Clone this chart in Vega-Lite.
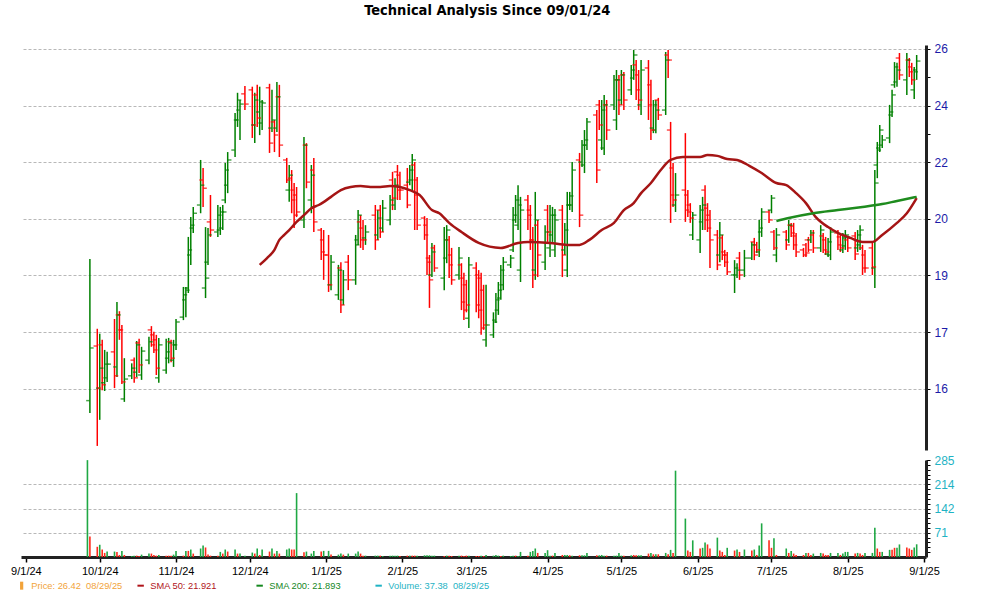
{
  "$schema": "https://vega.github.io/schema/vega-lite/v6.json",
  "background": "white",
  "padding": {"left": 10, "top": 3, "right": 0, "bottom": 0},
  "bounds": "flush",
  "title": {"text": "Technical Analysis Since 09/01/24", "font": "Liberation Sans Narrow, DejaVu Sans Condensed, Liberation Sans", "fontSize": 14.5, "fontWeight": "bold", "color": "#000000", "anchor": "middle", "offset": 24, "dx": 5},
  "spacing": 10,
  "datasets": {
    "ohlc": [
      {"d":"2024-09-26","v":285,"vc":"g"},
      {"d":"2024-09-27","o":15.93,"h":19.67,"l":15.64,"c":17.23,"v":60,"vc":"r"},
      {"d":"2024-09-30","o":17.28,"h":17.73,"l":14.89,"c":16.23,"v":30,"vc":"r"},
      {"d":"2024-10-01","o":16.23,"h":17.6,"l":15.48,"c":16.72,"v":36,"vc":"g"},
      {"d":"2024-10-02","o":17.31,"h":17.44,"l":16.18,"c":16.31,"v":22,"vc":"r"},
      {"d":"2024-10-03","o":16.36,"h":17.18,"l":16.16,"c":16.82,"v":12,"vc":"r"},
      {"d":"2024-10-04","o":16.48,"h":17.13,"l":16.38,"c":16.82,"v":16,"vc":"g"},
      {"d":"2024-10-07","o":17.13,"h":17.99,"l":16.23,"c":16.53,"v":16,"vc":"g"},
      {"d":"2024-10-08","o":16.75,"h":18.45,"l":16.5,"c":18.1,"v":15,"vc":"r"},
      {"d":"2024-10-09","o":18.1,"h":18.2,"l":17.44,"c":17.7,"v":6,"vc":"r"},
      {"d":"2024-10-10","o":17.7,"h":17.83,"l":16.33,"c":16.38,"v":18,"vc":"g"},
      {"d":"2024-10-11","o":15.97,"h":16.97,"l":15.9,"c":16.45,"v":6,"vc":"r"},
      {"d":"2024-10-14","o":16.53,"h":16.84,"l":16.45,"c":16.72,"v":3,"vc":"g"},
      {"d":"2024-10-15","o":16.92,"h":16.99,"l":16.36,"c":16.48,"v":4,"vc":"g"},
      {"d":"2024-10-16","o":16.62,"h":17.41,"l":16.5,"c":17.31,"v":4,"vc":"r"},
      {"d":"2024-10-17","o":17.36,"h":17.47,"l":16.6,"c":16.8,"v":3,"vc":"r"},
      {"d":"2024-10-18","o":16.55,"h":17.26,"l":16.43,"c":17.15,"v":7,"vc":"g"},
      {"d":"2024-10-21","o":16.92,"h":17.52,"l":16.82,"c":17.39,"v":10,"vc":"g"},
      {"d":"2024-10-22","o":17.7,"h":17.8,"l":17.26,"c":17.31,"v":10,"vc":"r"},
      {"d":"2024-10-23","o":17.57,"h":17.65,"l":17.1,"c":17.18,"v":6,"vc":"r"},
      {"d":"2024-10-24","o":17.44,"h":17.57,"l":16.55,"c":16.72,"v":4,"vc":"r"},
      {"d":"2024-10-25","o":16.48,"h":17.49,"l":16.36,"c":17.31,"v":6,"vc":"g"},
      {"d":"2024-10-28","o":16.67,"h":17.47,"l":16.58,"c":17.13,"v":4,"vc":"r"},
      {"d":"2024-10-29","o":16.97,"h":17.49,"l":16.84,"c":17.36,"v":4,"vc":"r"},
      {"d":"2024-10-30","o":17.39,"h":17.44,"l":16.87,"c":16.97,"v":4,"vc":"r"},
      {"d":"2024-10-31","o":16.92,"h":17.44,"l":16.75,"c":17.31,"v":7,"vc":"g"},
      {"d":"2024-11-01","o":17.31,"h":17.99,"l":17.18,"c":17.91,"v":18,"vc":"g"},
      {"d":"2024-11-04","o":18.04,"h":18.87,"l":17.96,"c":18.65,"v":4,"vc":"r"},
      {"d":"2024-11-05","o":18.51,"h":18.87,"l":18.04,"c":18.78,"v":18,"vc":"g"},
      {"d":"2024-11-06","o":18.84,"h":20.33,"l":18.7,"c":19.94,"v":18,"vc":"r"},
      {"d":"2024-11-07","o":19.79,"h":20.94,"l":19.5,"c":20.69,"v":22,"vc":"g"},
      {"d":"2024-11-08","o":20.6,"h":21.26,"l":20.45,"c":21.06,"v":10,"vc":"r"},
      {"d":"2024-11-11","o":21.32,"h":22.8,"l":21.06,"c":21.96,"v":25,"vc":"g"},
      {"d":"2024-11-12","o":22.13,"h":22.53,"l":21.26,"c":21.86,"v":34,"vc":"g"},
      {"d":"2024-11-13","o":18.84,"h":20.63,"l":18.56,"c":19.12,"v":28,"vc":"r"},
      {"d":"2024-11-14","o":19.58,"h":20.6,"l":19.5,"c":20.39,"v":7,"vc":"r"},
      {"d":"2024-11-15","o":20.79,"h":21.64,"l":20.33,"c":20.54,"v":4,"vc":"r"},
      {"d":"2024-11-18","o":20.48,"h":21.32,"l":20.33,"c":21.0,"v":4,"vc":"r"},
      {"d":"2024-11-19","o":20.54,"h":21.26,"l":20.39,"c":21.1,"v":15,"vc":"g"},
      {"d":"2024-11-20","o":20.6,"h":21.32,"l":20.54,"c":21.1,"v":10,"vc":"r"},
      {"d":"2024-11-21","o":21.48,"h":22.7,"l":21.38,"c":22.46,"v":22,"vc":"g"},
      {"d":"2024-11-22","o":21.96,"h":23.07,"l":21.7,"c":22.8,"v":16,"vc":"r"},
      {"d":"2024-11-25","o":23.14,"h":24.45,"l":22.9,"c":24.2,"v":22,"vc":"g"},
      {"d":"2024-11-26","o":24.2,"h":25.2,"l":23.95,"c":24.93,"v":10,"vc":"r"},
      {"d":"2024-11-27","o":24.56,"h":24.93,"l":23.49,"c":24.78,"v":10,"vc":"g"},
      {"d":"2024-11-29","o":25.16,"h":25.46,"l":24.56,"c":24.78,"v":4,"vc":"g"},
      {"d":"2024-12-02","o":25.31,"h":25.43,"l":23.56,"c":24.02,"v":13,"vc":"g"},
      {"d":"2024-12-03","o":24.02,"h":25.2,"l":23.38,"c":24.93,"v":10,"vc":"r"},
      {"d":"2024-12-04","o":25.12,"h":25.5,"l":23.95,"c":24.27,"v":25,"vc":"g"},
      {"d":"2024-12-05","o":24.49,"h":25.43,"l":23.66,"c":24.86,"v":6,"vc":"r"},
      {"d":"2024-12-06","o":24.09,"h":24.93,"l":23.84,"c":24.82,"v":22,"vc":"g"},
      {"d":"2024-12-09","o":25.39,"h":25.54,"l":23.04,"c":23.38,"v":16,"vc":"r"},
      {"d":"2024-12-10","o":23.91,"h":25.31,"l":23.77,"c":24.2,"v":25,"vc":"g"},
      {"d":"2024-12-11","o":24.13,"h":24.2,"l":23.07,"c":23.66,"v":10,"vc":"r"},
      {"d":"2024-12-12","o":23.91,"h":25.61,"l":23.77,"c":25.05,"v":18,"vc":"g"},
      {"d":"2024-12-13","o":25.05,"h":25.5,"l":22.9,"c":23.31,"v":10,"vc":"r"},
      {"d":"2024-12-16","o":22.8,"h":22.87,"l":22.03,"c":22.13,"v":22,"vc":"g"},
      {"d":"2024-12-17","o":21.8,"h":22.63,"l":21.42,"c":22.29,"v":25,"vc":"g"},
      {"d":"2024-12-18","o":22.19,"h":22.46,"l":21.06,"c":21.48,"v":22,"vc":"r"},
      {"d":"2024-12-19","o":21.8,"h":22.03,"l":20.6,"c":21.0,"v":22,"vc":"r"},
      {"d":"2024-12-20","o":21.64,"h":21.9,"l":20.94,"c":21.1,"v":188,"vc":"g"},
      {"d":"2024-12-23","o":20.85,"h":23.59,"l":20.6,"c":23.31,"v":14,"vc":"r"},
      {"d":"2024-12-24","o":23.31,"h":23.38,"l":21.86,"c":22.06,"v":16,"vc":"g"},
      {"d":"2024-12-26","o":21.48,"h":22.63,"l":21.06,"c":22.29,"v":10,"vc":"g"},
      {"d":"2024-12-27","o":22.46,"h":22.87,"l":20.48,"c":20.79,"v":18,"vc":"g"},
      {"d":"2024-12-30","o":20.54,"h":20.6,"l":19.64,"c":19.88,"v":16,"vc":"r"},
      {"d":"2024-12-31","o":20.24,"h":20.54,"l":19.07,"c":19.79,"v":18,"vc":"g"},
      {"d":"2025-01-02","o":19.79,"h":20.39,"l":18.73,"c":18.93,"v":18,"vc":"g"},
      {"d":"2025-01-03","o":18.93,"h":19.79,"l":18.78,"c":19.58,"v":7,"vc":"r"},
      {"d":"2025-01-06","o":18.65,"h":19.5,"l":18.51,"c":19.35,"v":7,"vc":"g"},
      {"d":"2025-01-07","o":19.41,"h":19.58,"l":18.15,"c":18.37,"v":10,"vc":"g"},
      {"d":"2025-01-08","o":18.51,"h":19.35,"l":18.37,"c":19.07,"v":7,"vc":"r"},
      {"d":"2025-01-10","o":19.58,"h":19.79,"l":18.78,"c":19.07,"v":10,"vc":"g"},
      {"d":"2025-01-13","o":19.07,"h":20.39,"l":18.93,"c":20.09,"v":10,"vc":"g"},
      {"d":"2025-01-14","o":20.24,"h":21.16,"l":20.09,"c":21.0,"v":16,"vc":"g"},
      {"d":"2025-01-15","o":20.79,"h":21.0,"l":20.0,"c":20.24,"v":10,"vc":"r"},
      {"d":"2025-01-16","o":20.6,"h":20.85,"l":19.94,"c":20.24,"v":4,"vc":"r"},
      {"d":"2025-01-17","o":20.3,"h":20.69,"l":20.09,"c":20.48,"v":4,"vc":"g"},
      {"d":"2025-01-21","o":21.0,"h":21.32,"l":19.94,"c":20.24,"v":4,"vc":"g"},
      {"d":"2025-01-22","o":20.39,"h":21.16,"l":20.24,"c":20.91,"v":4,"vc":"g"},
      {"d":"2025-01-23","o":21.16,"h":21.32,"l":20.3,"c":20.48,"v":4,"vc":"r"},
      {"d":"2025-01-24","o":20.6,"h":21.48,"l":20.48,"c":21.22,"v":3,"vc":"g"},
      {"d":"2025-01-27","o":20.85,"h":21.64,"l":20.69,"c":21.48,"v":4,"vc":"g"},
      {"d":"2025-01-28","o":22.13,"h":22.4,"l":21.16,"c":21.54,"v":4,"vc":"g"},
      {"d":"2025-01-29","o":21.32,"h":22.19,"l":21.16,"c":21.96,"v":4,"vc":"g"},
      {"d":"2025-01-30","o":22.4,"h":22.63,"l":21.48,"c":21.8,"v":4,"vc":"g"},
      {"d":"2025-01-31","o":22.29,"h":22.4,"l":21.48,"c":21.8,"v":3,"vc":"r"},
      {"d":"2025-02-03","o":21.96,"h":22.53,"l":21.22,"c":21.32,"v":4,"vc":"r"},
      {"d":"2025-02-04","o":22.06,"h":22.63,"l":21.96,"c":22.46,"v":4,"vc":"g"},
      {"d":"2025-02-05","o":22.13,"h":23.0,"l":21.8,"c":22.8,"v":4,"vc":"r"},
      {"d":"2025-02-06","o":22.63,"h":22.73,"l":20.54,"c":21.64,"v":4,"vc":"r"},
      {"d":"2025-02-07","o":22.13,"h":22.23,"l":20.54,"c":20.69,"v":4,"vc":"g"},
      {"d":"2025-02-10","o":20.91,"h":20.97,"l":20.24,"c":20.39,"v":5,"vc":"g"},
      {"d":"2025-02-11","o":20.69,"h":20.91,"l":19.21,"c":19.58,"v":5,"vc":"g"},
      {"d":"2025-02-12","o":19.7,"h":19.79,"l":18.29,"c":19.07,"v":5,"vc":"g"},
      {"d":"2025-02-13","o":19.21,"h":20.15,"l":19.15,"c":19.88,"v":4,"vc":"g"},
      {"d":"2025-02-14","o":20.0,"h":20.09,"l":19.3,"c":19.41,"v":4,"vc":"g"},
      {"d":"2025-02-18","o":19.12,"h":20.63,"l":18.78,"c":20.24,"v":3,"vc":"r"},
      {"d":"2025-02-19","o":19.7,"h":20.69,"l":19.55,"c":20.54,"v":4,"vc":"g"},
      {"d":"2025-02-20","o":20.24,"h":20.36,"l":19.12,"c":19.5,"v":4,"vc":"r"},
      {"d":"2025-02-21","o":19.79,"h":20.0,"l":18.93,"c":19.07,"v":3,"vc":"r"},
      {"d":"2025-02-24","o":19.21,"h":20.03,"l":19.07,"c":19.7,"v":4,"vc":"g"},
      {"d":"2025-02-25","o":19.5,"h":19.55,"l":18.23,"c":18.45,"v":4,"vc":"r"},
      {"d":"2025-02-26","o":19.12,"h":19.27,"l":17.96,"c":18.23,"v":3,"vc":"r"},
      {"d":"2025-02-27","o":18.93,"h":19.07,"l":18.17,"c":18.37,"v":4,"vc":"r"},
      {"d":"2025-02-28","o":18.01,"h":19.73,"l":17.75,"c":19.5,"v":4,"vc":"g"},
      {"d":"2025-03-03","o":19.41,"h":19.58,"l":18.17,"c":18.37,"v":3,"vc":"r"},
      {"d":"2025-03-04","o":19.21,"h":19.35,"l":18.01,"c":18.23,"v":3,"vc":"r"},
      {"d":"2025-03-05","o":19.12,"h":19.27,"l":17.57,"c":17.75,"v":4,"vc":"g"},
      {"d":"2025-03-06","o":18.78,"h":18.93,"l":17.7,"c":17.83,"v":3,"vc":"r"},
      {"d":"2025-03-07","o":17.44,"h":18.93,"l":17.26,"c":17.83,"v":6,"vc":"g"},
      {"d":"2025-03-10","o":17.57,"h":18.17,"l":17.49,"c":17.91,"v":4,"vc":"g"},
      {"d":"2025-03-11","o":17.96,"h":18.7,"l":17.88,"c":18.51,"v":6,"vc":"g"},
      {"d":"2025-03-12","o":18.23,"h":19.01,"l":18.1,"c":18.78,"v":4,"vc":"g"},
      {"d":"2025-03-13","o":18.56,"h":19.5,"l":18.51,"c":19.35,"v":3,"vc":"r"},
      {"d":"2025-03-14","o":18.93,"h":19.73,"l":18.78,"c":19.58,"v":4,"vc":"g"},
      {"d":"2025-03-17","o":19.5,"h":19.79,"l":19.41,"c":19.7,"v":3,"vc":"g"},
      {"d":"2025-03-18","o":19.94,"h":21.26,"l":19.88,"c":21.0,"v":4,"vc":"g"},
      {"d":"2025-03-19","o":20.85,"h":21.64,"l":20.76,"c":21.48,"v":4,"vc":"r"},
      {"d":"2025-03-20","o":20.69,"h":21.96,"l":20.54,"c":21.32,"v":3,"vc":"g"},
      {"d":"2025-03-21","o":19.35,"h":21.58,"l":19.01,"c":21.16,"v":15,"vc":"g"},
      {"d":"2025-03-24","o":21.48,"h":21.64,"l":20.54,"c":21.0,"v":4,"vc":"r"},
      {"d":"2025-03-25","o":21.16,"h":21.32,"l":19.94,"c":20.24,"v":15,"vc":"g"},
      {"d":"2025-03-26","o":20.24,"h":20.63,"l":18.84,"c":19.21,"v":18,"vc":"g"},
      {"d":"2025-03-27","o":19.35,"h":21.74,"l":19.07,"c":20.85,"v":25,"vc":"g"},
      {"d":"2025-03-28","o":20.69,"h":20.85,"l":19.15,"c":19.79,"v":12,"vc":"r"},
      {"d":"2025-03-31","o":19.58,"h":20.69,"l":19.35,"c":20.48,"v":12,"vc":"g"},
      {"d":"2025-04-01","o":21.16,"h":21.32,"l":20.18,"c":20.48,"v":20,"vc":"g"},
      {"d":"2025-04-02","o":20.0,"h":21.32,"l":19.73,"c":21.0,"v":4,"vc":"g"},
      {"d":"2025-04-03","o":20.39,"h":21.26,"l":20.18,"c":21.0,"v":4,"vc":"r"},
      {"d":"2025-04-04","o":19.94,"h":21.19,"l":19.73,"c":20.85,"v":12,"vc":"g"},
      {"d":"2025-04-07","o":21.16,"h":21.32,"l":19.15,"c":19.79,"v":6,"vc":"r"},
      {"d":"2025-04-08","o":19.94,"h":20.76,"l":19.79,"c":20.54,"v":6,"vc":"g"},
      {"d":"2025-04-09","o":19.35,"h":21.74,"l":19.15,"c":21.32,"v":6,"vc":"g"},
      {"d":"2025-04-10","o":21.32,"h":21.74,"l":21.16,"c":21.61,"v":5,"vc":"r"},
      {"d":"2025-04-11","o":21.32,"h":22.73,"l":21.1,"c":22.46,"v":4,"vc":"g"},
      {"d":"2025-04-14","o":22.8,"h":23.04,"l":20.63,"c":21.0,"v":5,"vc":"r"},
      {"d":"2025-04-15","o":22.73,"h":23.49,"l":22.56,"c":23.31,"v":5,"vc":"g"},
      {"d":"2025-04-16","o":22.63,"h":23.84,"l":22.36,"c":23.49,"v":5,"vc":"g"},
      {"d":"2025-04-17","o":23.31,"h":24.27,"l":23.14,"c":24.13,"v":12,"vc":"g"},
      {"d":"2025-04-21","o":24.38,"h":24.56,"l":22.03,"c":22.46,"v":5,"vc":"r"},
      {"d":"2025-04-22","o":24.75,"h":24.93,"l":23.84,"c":24.02,"v":5,"vc":"g"},
      {"d":"2025-04-23","o":23.49,"h":24.93,"l":23.14,"c":24.56,"v":6,"vc":"g"},
      {"d":"2025-04-24","o":23.21,"h":25.12,"l":22.97,"c":24.75,"v":4,"vc":"g"},
      {"d":"2025-04-25","o":24.75,"h":24.93,"l":23.49,"c":23.84,"v":4,"vc":"r"},
      {"d":"2025-04-28","o":24.75,"h":25.88,"l":24.56,"c":25.69,"v":4,"vc":"g"},
      {"d":"2025-04-29","o":24.2,"h":26.07,"l":23.84,"c":25.69,"v":4,"vc":"g"},
      {"d":"2025-04-30","o":25.69,"h":25.88,"l":24.38,"c":24.75,"v":12,"vc":"g"},
      {"d":"2025-05-01","o":24.93,"h":26.07,"l":24.75,"c":25.88,"v":4,"vc":"g"},
      {"d":"2025-05-02","o":25.88,"h":25.99,"l":24.56,"c":24.93,"v":4,"vc":"r"},
      {"d":"2025-05-05","o":25.31,"h":26.27,"l":25.12,"c":26.07,"v":5,"vc":"g"},
      {"d":"2025-05-06","o":25.76,"h":26.86,"l":25.69,"c":26.66,"v":6,"vc":"r"},
      {"d":"2025-05-07","o":26.27,"h":26.46,"l":24.93,"c":25.31,"v":5,"vc":"r"},
      {"d":"2025-05-08","o":25.88,"h":26.07,"l":24.56,"c":24.93,"v":5,"vc":"g"},
      {"d":"2025-05-09","o":24.75,"h":26.46,"l":24.38,"c":26.07,"v":5,"vc":"g"},
      {"d":"2025-05-12","o":26.15,"h":26.46,"l":24.2,"c":24.75,"v":10,"vc":"r"},
      {"d":"2025-05-13","o":25.5,"h":25.69,"l":23.49,"c":23.84,"v":12,"vc":"g"},
      {"d":"2025-05-14","o":23.91,"h":24.93,"l":23.73,"c":24.75,"v":8,"vc":"r"},
      {"d":"2025-05-15","o":23.84,"h":24.93,"l":23.73,"c":24.56,"v":8,"vc":"g"},
      {"d":"2025-05-16","o":24.93,"h":25.01,"l":24.2,"c":24.38,"v":8,"vc":"r"},
      {"d":"2025-05-19","o":24.56,"h":26.78,"l":24.38,"c":26.46,"v":12,"vc":"g"},
      {"d":"2025-05-20","o":26.66,"h":26.86,"l":25.76,"c":26.46,"v":8,"vc":"r"},
      {"d":"2025-05-21","o":23.84,"h":24.13,"l":20.76,"c":21.64,"v":21,"vc":"g"},
      {"d":"2025-05-22","o":22.53,"h":22.7,"l":21.26,"c":21.48,"v":12,"vc":"r"},
      {"d":"2025-05-23","o":21.32,"h":22.36,"l":21.1,"c":21.64,"v":254,"vc":"g"},
      {"d":"2025-05-27","o":21.8,"h":23.73,"l":20.79,"c":21.16,"v":113,"vc":"g"},
      {"d":"2025-05-28","o":21.64,"h":21.8,"l":20.94,"c":21.1,"v":19,"vc":"r"},
      {"d":"2025-05-29","o":21.32,"h":21.38,"l":20.76,"c":20.91,"v":15,"vc":"r"},
      {"d":"2025-05-30","o":20.39,"h":21.1,"l":20.24,"c":21.0,"v":49,"vc":"g"},
      {"d":"2025-06-02","o":20.24,"h":21.32,"l":19.85,"c":21.16,"v":25,"vc":"r"},
      {"d":"2025-06-03","o":20.79,"h":21.58,"l":20.54,"c":21.32,"v":27,"vc":"g"},
      {"d":"2025-06-04","o":21.8,"h":21.96,"l":20.54,"c":20.85,"v":43,"vc":"g"},
      {"d":"2025-06-05","o":21.22,"h":21.38,"l":20.48,"c":20.6,"v":37,"vc":"r"},
      {"d":"2025-06-06","o":21.0,"h":21.16,"l":19.41,"c":20.24,"v":25,"vc":"r"},
      {"d":"2025-06-09","o":20.39,"h":20.54,"l":19.35,"c":19.5,"v":57,"vc":"g"},
      {"d":"2025-06-10","o":19.79,"h":20.79,"l":19.58,"c":20.39,"v":19,"vc":"r"},
      {"d":"2025-06-11","o":20.3,"h":20.39,"l":19.64,"c":19.79,"v":15,"vc":"r"},
      {"d":"2025-06-12","o":19.88,"h":19.94,"l":19.44,"c":19.58,"v":6,"vc":"r"},
      {"d":"2025-06-13","o":19.79,"h":19.88,"l":19.21,"c":19.3,"v":27,"vc":"g"},
      {"d":"2025-06-16","o":19.21,"h":19.64,"l":18.7,"c":19.41,"v":19,"vc":"r"},
      {"d":"2025-06-17","o":19.21,"h":19.55,"l":19.12,"c":19.35,"v":22,"vc":"g"},
      {"d":"2025-06-18","o":19.7,"h":19.88,"l":19.07,"c":19.21,"v":15,"vc":"r"},
      {"d":"2025-06-20","o":19.35,"h":19.94,"l":19.15,"c":19.7,"v":22,"vc":"g"},
      {"d":"2025-06-23","o":19.7,"h":20.18,"l":19.64,"c":20.09,"v":19,"vc":"r"},
      {"d":"2025-06-24","o":20.18,"h":20.3,"l":19.64,"c":19.79,"v":22,"vc":"g"},
      {"d":"2025-06-25","o":20.09,"h":20.18,"l":19.85,"c":19.94,"v":6,"vc":"r"},
      {"d":"2025-06-26","o":19.88,"h":20.85,"l":19.73,"c":20.6,"v":34,"vc":"g"},
      {"d":"2025-06-27","o":20.48,"h":21.22,"l":20.33,"c":21.1,"v":99,"vc":"g"},
      {"d":"2025-06-30","o":21.1,"h":21.16,"l":20.76,"c":20.85,"v":49,"vc":"r"},
      {"d":"2025-07-01","o":21.16,"h":21.64,"l":21.06,"c":21.54,"v":27,"vc":"r"},
      {"d":"2025-07-02","o":20.48,"h":20.54,"l":19.94,"c":20.0,"v":55,"vc":"g"},
      {"d":"2025-07-03","o":19.79,"h":20.6,"l":19.58,"c":20.39,"v":6,"vc":"r"},
      {"d":"2025-07-07","o":20.48,"h":20.54,"l":19.94,"c":20.09,"v":25,"vc":"g"},
      {"d":"2025-07-08","o":20.24,"h":20.85,"l":20.15,"c":20.69,"v":12,"vc":"r"},
      {"d":"2025-07-09","o":20.69,"h":20.76,"l":20.33,"c":20.45,"v":18,"vc":"g"},
      {"d":"2025-07-10","o":20.66,"h":20.76,"l":19.94,"c":20.09,"v":10,"vc":"r"},
      {"d":"2025-07-11","o":20.36,"h":20.45,"l":19.73,"c":19.88,"v":6,"vc":"r"},
      {"d":"2025-07-14","o":19.94,"h":20.0,"l":19.73,"c":19.79,"v":6,"vc":"r"},
      {"d":"2025-07-15","o":20.09,"h":20.15,"l":19.73,"c":19.85,"v":12,"vc":"g"},
      {"d":"2025-07-16","o":20.24,"h":20.33,"l":19.88,"c":19.94,"v":12,"vc":"r"},
      {"d":"2025-07-17","o":20.24,"h":20.54,"l":20.15,"c":20.45,"v":6,"vc":"r"},
      {"d":"2025-07-18","o":20.39,"h":20.54,"l":19.85,"c":20.0,"v":10,"vc":"g"},
      {"d":"2025-07-21","o":20.0,"h":20.69,"l":19.88,"c":20.54,"v":12,"vc":"g"},
      {"d":"2025-07-22","o":20.36,"h":20.45,"l":19.85,"c":19.94,"v":10,"vc":"r"},
      {"d":"2025-07-23","o":20.24,"h":20.33,"l":19.79,"c":19.88,"v":6,"vc":"r"},
      {"d":"2025-07-24","o":19.82,"h":20.3,"l":19.73,"c":20.18,"v":6,"vc":"r"},
      {"d":"2025-07-25","o":19.79,"h":20.63,"l":19.64,"c":20.48,"v":12,"vc":"g"},
      {"d":"2025-07-28","o":20.45,"h":20.54,"l":19.94,"c":20.09,"v":12,"vc":"g"},
      {"d":"2025-07-29","o":20.33,"h":20.39,"l":19.88,"c":20.0,"v":6,"vc":"r"},
      {"d":"2025-07-30","o":19.94,"h":20.45,"l":19.85,"c":20.3,"v":10,"vc":"g"},
      {"d":"2025-07-31","o":20.06,"h":20.54,"l":19.94,"c":20.39,"v":15,"vc":"g"},
      {"d":"2025-08-01","o":20.24,"h":20.33,"l":19.88,"c":20.0,"v":15,"vc":"g"},
      {"d":"2025-08-04","o":20.36,"h":20.48,"l":19.64,"c":19.82,"v":10,"vc":"r"},
      {"d":"2025-08-05","o":20.0,"h":20.54,"l":19.88,"c":20.39,"v":12,"vc":"g"},
      {"d":"2025-08-06","o":20.09,"h":20.69,"l":19.94,"c":20.54,"v":10,"vc":"r"},
      {"d":"2025-08-07","o":20.0,"h":20.09,"l":19.21,"c":19.41,"v":6,"vc":"r"},
      {"d":"2025-08-08","o":19.79,"h":19.94,"l":19.27,"c":19.41,"v":12,"vc":"g"},
      {"d":"2025-08-11","o":20.0,"h":20.15,"l":19.21,"c":19.44,"v":12,"vc":"g"},
      {"d":"2025-08-12","o":19.41,"h":22.46,"l":18.84,"c":22.03,"v":86,"vc":"g"},
      {"d":"2025-08-13","o":22.63,"h":23.42,"l":22.19,"c":23.14,"v":25,"vc":"r"},
      {"d":"2025-08-14","o":23.21,"h":24.02,"l":23.07,"c":23.84,"v":15,"vc":"r"},
      {"d":"2025-08-15","o":23.31,"h":23.66,"l":23.21,"c":23.49,"v":15,"vc":"g"},
      {"d":"2025-08-18","o":23.56,"h":24.75,"l":23.38,"c":24.49,"v":21,"vc":"g"},
      {"d":"2025-08-19","o":24.38,"h":25.31,"l":24.31,"c":25.12,"v":21,"vc":"r"},
      {"d":"2025-08-20","o":25.5,"h":26.38,"l":25.39,"c":26.19,"v":27,"vc":"r"},
      {"d":"2025-08-21","o":25.61,"h":26.35,"l":25.43,"c":26.07,"v":27,"vc":"g"},
      {"d":"2025-08-22","o":26.54,"h":26.74,"l":25.69,"c":25.88,"v":37,"vc":"g"},
      {"d":"2025-08-25","o":25.69,"h":26.74,"l":25.12,"c":26.46,"v":28,"vc":"r"},
      {"d":"2025-08-26","o":26.46,"h":26.54,"l":25.8,"c":26.0,"v":25,"vc":"r"},
      {"d":"2025-08-27","o":26.19,"h":26.35,"l":25.5,"c":25.69,"v":21,"vc":"r"},
      {"d":"2025-08-28","o":25.31,"h":26.19,"l":24.97,"c":26.0,"v":28,"vc":"g"},
      {"d":"2025-08-29","o":26.07,"h":26.66,"l":25.69,"c":26.42,"v":37.38,"vc":"g"}
    ],
    "sma": [
      {"d":"2024-12-05","y":19.5,"s":"SMA 50: 21.921"},
      {"d":"2024-12-08","y":19.7,"s":"SMA 50: 21.921"},
      {"d":"2024-12-11","y":19.94,"s":"SMA 50: 21.921"},
      {"d":"2024-12-13","y":20.24,"s":"SMA 50: 21.921"},
      {"d":"2024-12-15","y":20.39,"s":"SMA 50: 21.921"},
      {"d":"2024-12-17","y":20.54,"s":"SMA 50: 21.921"},
      {"d":"2024-12-20","y":20.79,"s":"SMA 50: 21.921"},
      {"d":"2024-12-23","y":21.0,"s":"SMA 50: 21.921"},
      {"d":"2024-12-26","y":21.22,"s":"SMA 50: 21.921"},
      {"d":"2024-12-29","y":21.32,"s":"SMA 50: 21.921"},
      {"d":"2025-01-03","y":21.58,"s":"SMA 50: 21.921"},
      {"d":"2025-01-07","y":21.8,"s":"SMA 50: 21.921"},
      {"d":"2025-01-11","y":21.9,"s":"SMA 50: 21.921"},
      {"d":"2025-01-15","y":21.93,"s":"SMA 50: 21.921"},
      {"d":"2025-01-19","y":21.9,"s":"SMA 50: 21.921"},
      {"d":"2025-01-23","y":21.9,"s":"SMA 50: 21.921"},
      {"d":"2025-01-27","y":21.93,"s":"SMA 50: 21.921"},
      {"d":"2025-01-31","y":21.9,"s":"SMA 50: 21.921"},
      {"d":"2025-02-04","y":21.8,"s":"SMA 50: 21.921"},
      {"d":"2025-02-08","y":21.64,"s":"SMA 50: 21.921"},
      {"d":"2025-02-13","y":21.16,"s":"SMA 50: 21.921"},
      {"d":"2025-02-16","y":21.06,"s":"SMA 50: 21.921"},
      {"d":"2025-02-20","y":20.76,"s":"SMA 50: 21.921"},
      {"d":"2025-02-25","y":20.48,"s":"SMA 50: 21.921"},
      {"d":"2025-03-04","y":20.15,"s":"SMA 50: 21.921"},
      {"d":"2025-03-13","y":20.0,"s":"SMA 50: 21.921"},
      {"d":"2025-03-20","y":20.15,"s":"SMA 50: 21.921"},
      {"d":"2025-03-24","y":20.18,"s":"SMA 50: 21.921"},
      {"d":"2025-04-02","y":20.15,"s":"SMA 50: 21.921"},
      {"d":"2025-04-09","y":20.09,"s":"SMA 50: 21.921"},
      {"d":"2025-04-14","y":20.09,"s":"SMA 50: 21.921"},
      {"d":"2025-04-18","y":20.24,"s":"SMA 50: 21.921"},
      {"d":"2025-04-23","y":20.54,"s":"SMA 50: 21.921"},
      {"d":"2025-04-28","y":20.76,"s":"SMA 50: 21.921"},
      {"d":"2025-05-02","y":21.16,"s":"SMA 50: 21.921"},
      {"d":"2025-05-06","y":21.38,"s":"SMA 50: 21.921"},
      {"d":"2025-05-09","y":21.7,"s":"SMA 50: 21.921"},
      {"d":"2025-05-13","y":22.03,"s":"SMA 50: 21.921"},
      {"d":"2025-05-17","y":22.46,"s":"SMA 50: 21.921"},
      {"d":"2025-05-21","y":22.8,"s":"SMA 50: 21.921"},
      {"d":"2025-05-26","y":22.9,"s":"SMA 50: 21.921"},
      {"d":"2025-06-02","y":22.9,"s":"SMA 50: 21.921"},
      {"d":"2025-06-05","y":22.97,"s":"SMA 50: 21.921"},
      {"d":"2025-06-09","y":22.94,"s":"SMA 50: 21.921"},
      {"d":"2025-06-13","y":22.83,"s":"SMA 50: 21.921"},
      {"d":"2025-06-17","y":22.8,"s":"SMA 50: 21.921"},
      {"d":"2025-06-22","y":22.6,"s":"SMA 50: 21.921"},
      {"d":"2025-06-27","y":22.36,"s":"SMA 50: 21.921"},
      {"d":"2025-07-03","y":22.03,"s":"SMA 50: 21.921"},
      {"d":"2025-07-07","y":21.96,"s":"SMA 50: 21.921"},
      {"d":"2025-07-11","y":21.7,"s":"SMA 50: 21.921"},
      {"d":"2025-07-15","y":21.38,"s":"SMA 50: 21.921"},
      {"d":"2025-07-19","y":20.94,"s":"SMA 50: 21.921"},
      {"d":"2025-07-24","y":20.63,"s":"SMA 50: 21.921"},
      {"d":"2025-07-28","y":20.45,"s":"SMA 50: 21.921"},
      {"d":"2025-08-02","y":20.3,"s":"SMA 50: 21.921"},
      {"d":"2025-08-07","y":20.18,"s":"SMA 50: 21.921"},
      {"d":"2025-08-11","y":20.18,"s":"SMA 50: 21.921"},
      {"d":"2025-08-15","y":20.39,"s":"SMA 50: 21.921"},
      {"d":"2025-08-21","y":20.76,"s":"SMA 50: 21.921"},
      {"d":"2025-08-25","y":21.06,"s":"SMA 50: 21.921"},
      {"d":"2025-08-29","y":21.54,"s":"SMA 50: 21.921"},
      {"d":"2025-07-03","y":20.82,"s":"SMA 200: 21.893"},
      {"d":"2025-07-08","y":20.91,"s":"SMA 200: 21.893"},
      {"d":"2025-07-18","y":21.06,"s":"SMA 200: 21.893"},
      {"d":"2025-07-28","y":21.16,"s":"SMA 200: 21.893"},
      {"d":"2025-08-07","y":21.26,"s":"SMA 200: 21.893"},
      {"d":"2025-08-15","y":21.35,"s":"SMA 200: 21.893"},
      {"d":"2025-08-21","y":21.45,"s":"SMA 200: 21.893"},
      {"d":"2025-08-29","y":21.58,"s":"SMA 200: 21.893"}
    ]
  },
  "vconcat": [
    {
      "width": 905,
      "height": 405,
      "layer": [
        {
          "data": {"name": "ohlc"},
          "transform": [{"filter": "isValid(datum.o)"}],
          "mark": {"type": "rule", "strokeWidth": 1.5},
          "encoding": {
            "x": {"field": "d", "type": "temporal", "scale": {"type": "utc", "domain": [{"year": 2024, "month": 8, "date": 30, "utc": true}, {"year": 2025, "month": 9, "date": 1, "hours": 19, "utc": true}]}, "axis": null},
            "y": {"field": "l", "type": "quantitative", "scale": {"type": "log", "domain": [14.8, 27.06], "nice": false, "zero": false},
              "axis": {"orient": "right", "title": null, "values": [16.22, 17.64, 19.2, 20.89, 22.72, 23.7, 24.72, 25.79, 26.9],
                "labelExpr": "datum.value == 23.7 || datum.value == 25.79 ? '' : '' + floor(datum.value)",
                "gridOpacity": {"condition": {"test": "datum.value == 23.7 || datum.value == 25.79", "value": 0}, "value": 1},
                "gridColor": "#b8b8b8", "gridDash": [3, 2], "gridWidth": 1,
                "labelColor": "#1b1ba8", "labelFont": "Liberation Sans", "labelFontSize": 12, "labelPadding": 4,
                "tickColor": "#000000", "tickSize": 4, "tickWidth": 1,
                "domainColor": "#222222", "domainWidth": 3}},
            "y2": {"field": "h"},
            "stroke": {"condition": {"test": "datum.c >= datum.o", "value": "#008000"}, "value": "#ff0000"}
          }
        },
        {
          "data": {"name": "ohlc"},
          "transform": [{"filter": "isValid(datum.o)"}],
          "mark": {"type": "tick", "orient": "horizontal", "size": 3.5, "thickness": 1.5, "xOffset": -2},
          "encoding": {
            "x": {"field": "d", "type": "temporal"},
            "y": {"field": "o", "type": "quantitative"},
            "color": {"condition": {"test": "datum.c >= datum.o", "value": "#008000"}, "value": "#ff0000"}
          }
        },
        {
          "data": {"name": "ohlc"},
          "transform": [{"filter": "isValid(datum.o)"}],
          "mark": {"type": "tick", "orient": "horizontal", "size": 3.5, "thickness": 1.5, "xOffset": 2},
          "encoding": {
            "x": {"field": "d", "type": "temporal"},
            "y": {"field": "c", "type": "quantitative"},
            "color": {"condition": {"test": "datum.c >= datum.o", "value": "#008000"}, "value": "#ff0000"}
          }
        },
        {
          "data": {"name": "sma"},
          "mark": {"type": "line", "strokeWidth": 2.5, "interpolate": "monotone"},
          "encoding": {
            "x": {"field": "d", "type": "temporal"},
            "y": {"field": "y", "type": "quantitative"},
            "color": {"field": "s", "type": "nominal",
              "scale": {"domain": ["Price: 26.42\u00a0 08/29/25", "SMA 50: 21.921", "SMA 200: 21.893", "Volume: 37.38\u00a0 08/29/25"], "range": ["#f2a33a", "#a51515", "#1e8c1e", "#1fb3c4"]},
              "legend": {"orient": "none", "legendX": -4, "legendY": 536, "direction": "horizontal", "title": null, "gridAlign": "all", "columnPadding": 3,
                "labelFont": "Liberation Sans", "labelFontSize": 9.3, "labelOffset": 5, "symbolSize": 64, "padding": 0,
                "encode": {
                  "symbols": {"update": {
                    "shape": {"signal": "indexof(datum.value, 'Price') == 0 ? 'M-0.4,-1H0.4V1H-0.4Z' : 'M-0.8,-0.25H0.8V0.25H-0.8Z'"},
                    "fill": {"signal": "indexof(datum.value, 'Price') == 0 ? '#f2a33a' : indexof(datum.value, 'SMA 50') == 0 ? '#b0141a' : indexof(datum.value, 'SMA 200') == 0 ? '#14881e' : '#1fb3c4'"},
                    "fillOpacity": {"value": 1},
                    "strokeWidth": {"value": 0}}},
                  "labels": {"update": {
                    "fill": {"signal": "indexof(datum.value, 'Price') == 0 ? '#f2a33a' : indexof(datum.value, 'SMA 50') == 0 ? '#b0141a' : indexof(datum.value, 'SMA 200') == 0 ? '#14881e' : '#1fb3c4'"}}}
                }}
            }
          }
        }
      ]
    },
    {
      "width": 905,
      "height": 97,
      "data": {"name": "ohlc"},
      "mark": {"type": "rule", "strokeWidth": 1.6},
      "encoding": {
        "x": {"field": "d", "type": "temporal", "scale": {"type": "utc", "domain": [{"year": 2024, "month": 8, "date": 30, "utc": true}, {"year": 2025, "month": 9, "date": 1, "hours": 19, "utc": true}]},
          "axis": {"orient": "bottom", "title": null, "format": "%-m/%-d/%y", "grid": false,
            "values": [
              {"year": 2024, "month": 9, "date": 1, "utc": true}, {"year": 2024, "month": 10, "date": 1, "utc": true},
              {"year": 2024, "month": 11, "date": 1, "utc": true}, {"year": 2024, "month": 12, "date": 1, "utc": true},
              {"year": 2025, "month": 1, "date": 1, "utc": true}, {"year": 2025, "month": 2, "date": 1, "utc": true},
              {"year": 2025, "month": 3, "date": 1, "utc": true}, {"year": 2025, "month": 4, "date": 1, "utc": true},
              {"year": 2025, "month": 5, "date": 1, "utc": true}, {"year": 2025, "month": 6, "date": 1, "utc": true},
              {"year": 2025, "month": 7, "date": 1, "utc": true}, {"year": 2025, "month": 8, "date": 1, "utc": true},
              {"year": 2025, "month": 9, "date": 1, "utc": true}],
            "labelFont": "Liberation Sans", "labelFontSize": 11, "labelColor": "#000000", "labelPadding": 3,
            "labelFlush": false, "labelOverlap": false,
            "tickColor": "#000000", "tickSize": 5, "tickWidth": 1.5,
            "domainColor": "#222222", "domainWidth": 3}},
        "y": {"field": "v", "type": "quantitative", "scale": {"domain": [0, 285.4], "nice": false},
          "axis": {"orient": "right", "title": null,
            "values": [14.27, 28.54, 42.81, 57.08, 71.35, 85.62, 99.89, 114.16, 128.43, 142.7, 156.97, 171.24, 185.51, 199.78, 214.05, 228.32, 242.59, 256.86, 271.13, 285.4],
            "labelExpr": "indexof([71.35, 142.7, 214.05, 285.4], datum.value) >= 0 ? '' + floor(datum.value) : ''",
            "gridOpacity": {"condition": {"test": "indexof([71.35, 142.7, 214.05], datum.value) >= 0", "value": 1}, "value": 0},
            "gridColor": "#b8b8b8", "gridDash": [3, 2], "gridWidth": 1,
            "labelColor": "#1fb3c4", "labelFont": "Liberation Sans", "labelFontSize": 12, "labelPadding": 4,
            "tickColor": "#000000", "tickSize": 4, "tickWidth": 1,
            "domainColor": "#222222", "domainWidth": 3}},
        "y2": {"datum": 0},
        "stroke": {"condition": {"test": "datum.vc == 'g'", "value": "#1fa844"}, "value": "#ff2a1a"}
      }
    }
  ],
  "resolve": {"scale": {"color": "shared"}, "legend": {"color": "shared"}},
  "config": {
    "view": {"stroke": null},
    "axis": {"labelFont": "Liberation Sans"}
  }
}
